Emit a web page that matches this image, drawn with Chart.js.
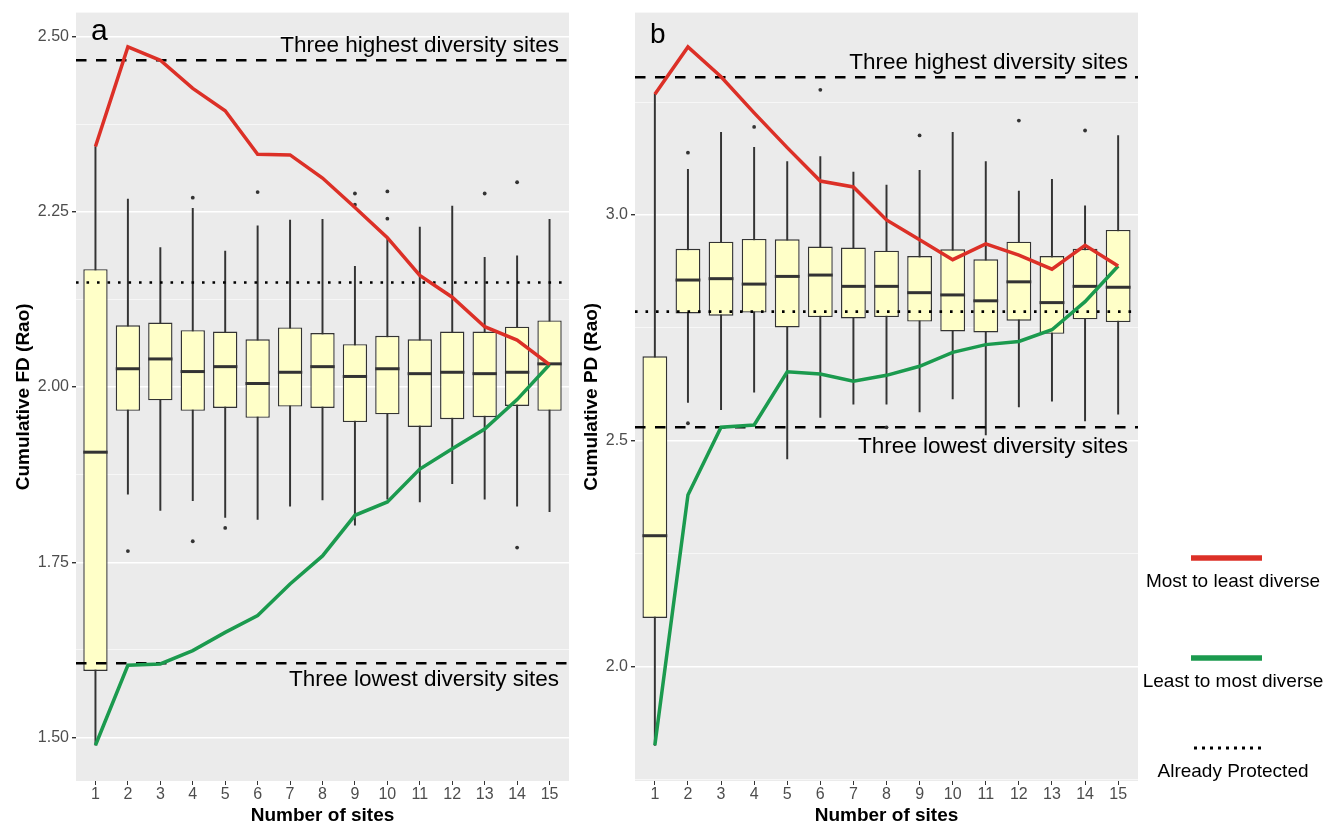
<!DOCTYPE html>
<html>
<head>
<meta charset="utf-8">
<script src="https://cdn.jsdelivr.net/npm/chart.js@4.4.0/dist/chart.umd.min.js"></script>
<style>
  body { margin: 0; background: #fff; }
  #wrap { position: relative; width: 1342px; height: 827px; }
  canvas { position: absolute; top: 0; }
  #fd { left: 0; }
  #pd { left: 580px; }
</style>
</head>
<body>
<div id="wrap">
  <canvas id="fd" width="580" height="827"></canvas>
  <canvas id="pd" width="762" height="827"></canvas>
</div>
<script>
// x categories
const sites = [1, 2, 3, 4, 5, 6, 7, 8, 9, 10, 11, 12, 13, 14, 15];

// panel a: cumulative FD (Rao), boxplot stats per number of sites
const fdLow  = [1.489, 1.847, 1.824, 1.838, 1.814, 1.811, 1.830, 1.839, 1.803, 1.840, 1.836, 1.862, 1.840, 1.830, 1.822];
const fdQ1   = [1.595, 1.966, 1.981, 1.966, 1.970, 1.956, 1.972, 1.970, 1.950, 1.961, 1.943, 1.954, 1.957, 1.973, 1.966];
const fdMed  = [1.907, 2.026, 2.040, 2.022, 2.029, 2.005, 2.021, 2.029, 2.015, 2.026, 2.019, 2.021, 2.019, 2.021, 2.033];
const fdQ3   = [2.168, 2.088, 2.092, 2.081, 2.079, 2.068, 2.085, 2.077, 2.061, 2.073, 2.068, 2.079, 2.079, 2.086, 2.095];
const fdHigh = [2.343, 2.268, 2.199, 2.255, 2.194, 2.230, 2.238, 2.239, 2.172, 2.213, 2.228, 2.258, 2.185, 2.187, 2.239];
const fdOutSite = [2, 4, 4, 5, 6, 9, 9, 10, 10, 13, 14, 14];
const fdOutVal  = [1.766, 2.270, 1.780, 1.799, 2.278, 2.276, 2.260, 2.279, 2.240, 2.276, 2.292, 1.771];
const fdMostToLeast = [2.343, 2.485, 2.466, 2.426, 2.394, 2.332, 2.331, 2.298, 2.256, 2.213, 2.159, 2.128, 2.086, 2.067, 2.032];
const fdLeastToMost = [1.489, 1.603, 1.605, 1.624, 1.650, 1.674, 1.719, 1.759, 1.817, 1.836, 1.883, 1.912, 1.940, 1.982, 2.032];
const fdHighest = 2.466, fdLowest = 1.606, fdProtected = 2.149;
const fdTicks = [1.50, 1.75, 2.00, 2.25, 2.50];
const fdMinor = [1.625, 1.875, 2.125, 2.375];

// panel b: cumulative PD (Rao)
const pdLow  = [1.826, 2.585, 2.569, 2.608, 2.460, 2.552, 2.581, 2.581, 2.564, 2.593, 2.513, 2.575, 2.588, 2.544, 2.559];
const pdQ1   = [2.108, 2.782, 2.777, 2.784, 2.751, 2.774, 2.771, 2.774, 2.764, 2.742, 2.740, 2.766, 2.737, 2.769, 2.763];
const pdMed  = [2.290, 2.856, 2.859, 2.847, 2.864, 2.867, 2.842, 2.842, 2.828, 2.823, 2.810, 2.852, 2.806, 2.842, 2.840];
const pdQ3   = [2.687, 2.925, 2.941, 2.947, 2.946, 2.930, 2.928, 2.921, 2.909, 2.924, 2.902, 2.941, 2.909, 2.925, 2.967];
const pdHigh = [3.267, 3.101, 3.183, 3.150, 3.118, 3.129, 3.095, 3.066, 3.099, 3.183, 3.118, 3.053, 3.079, 3.020, 3.176];
const pdOutSite = [2, 2, 4, 6, 8, 9, 12, 14];
const pdOutVal  = [3.138, 2.539, 3.195, 3.277, 2.530, 3.176, 3.209, 3.187];
const pdMostToLeast = [3.267, 3.372, 3.306, 3.226, 3.149, 3.075, 3.062, 2.989, 2.945, 2.901, 2.936, 2.911, 2.880, 2.933, 2.887];
const pdLeastToMost = [1.826, 2.380, 2.530, 2.535, 2.653, 2.648, 2.632, 2.645, 2.665, 2.696, 2.713, 2.720, 2.746, 2.808, 2.887];
const pdHighest = 3.305, pdLowest = 2.530, pdProtected = 2.786;
const pdTicks = [2.0, 2.5, 3.0];
const pdMinor = [1.75, 2.25, 2.75, 3.25];

const legendLabels = ['Most to least diverse', 'Least to most diverse', 'Already Protected'];

Chart.defaults.font.family = "'Liberation Sans', Arial, sans-serif";
Chart.defaults.color = '#4d4d4d';

const INK = '#333333';
const RED = '#dc3027';
const GREEN = '#1b9a4e';
const BOX_FILL = '#ffffc8';
const FONT = "'Liberation Sans', Arial, sans-serif";

const hline = (ctx, area, y, width, dash) => {
  ctx.save();
  ctx.strokeStyle = '#000';
  ctx.lineWidth = width;
  ctx.setLineDash(dash);
  ctx.beginPath();
  ctx.moveTo(area.left, y);
  ctx.lineTo(area.right, y);
  ctx.stroke();
  ctx.restore();
};

function makePanel(id, p) {
  const isMajor = v => p.ticks.some(t => Math.abs(t - v) < 1e-6);
  const gridValues = p.ticks.concat(p.minor).sort((a, b) => a - b);

  const background = {
    id: 'panelBg',
    beforeDraw(chart) {
      const { ctx, chartArea: a } = chart;
      ctx.save();
      ctx.fillStyle = '#ebebeb';
      ctx.fillRect(a.left, a.top, a.width, a.height);
      ctx.restore();
    }
  };

  // medians + reference lines go right after the boxes, under the red/green lines
  const boxExtras = {
    id: 'boxExtras',
    afterDatasetDraw(chart, args) {
      if (chart.data.datasets[args.index].role !== 'box') return;
      const { ctx, chartArea: a, scales: { y } } = chart;
      ctx.save();
      ctx.strokeStyle = INK;
      ctx.lineWidth = 3;
      args.meta.data.forEach((bar, i) => {
        const py = y.getPixelForValue(p.med[i]);
        ctx.beginPath();
        ctx.moveTo(bar.x - bar.width / 2, py);
        ctx.lineTo(bar.x + bar.width / 2, py);
        ctx.stroke();
      });
      ctx.restore();
      hline(ctx, a, y.getPixelForValue(p.highest), 2.4, [10.5, 9.5]);
      hline(ctx, a, y.getPixelForValue(p.lowest), 2.4, [10.5, 9.5]);
      hline(ctx, a, y.getPixelForValue(p.protected), 2.6, [2.6, 7.9]);
    }
  };

  const labels = {
    id: 'labels',
    afterDraw(chart) {
      const { ctx, chartArea: a, scales: { y } } = chart;
      ctx.save();
      ctx.fillStyle = '#000';
      ctx.font = '22.5px ' + FONT;
      ctx.textAlign = 'right';
      ctx.textBaseline = 'alphabetic';
      ctx.fillText('Three highest diversity sites', a.right - 10, y.getPixelForValue(p.highest) - 8.5);
      ctx.fillText('Three lowest diversity sites', a.right - 10, y.getPixelForValue(p.lowest) + p.lowGap);
      ctx.textAlign = 'left';
      ctx.font = p.tagSize + 'px ' + FONT;
      ctx.fillText(p.tag, a.left + 15, p.tagBase);

      if (p.legend) {
        const lx = 611, lw = 71, tx = 653;
        ctx.font = '19px ' + FONT;
        ctx.textAlign = 'center';
        const rows = [
          { y: 558, color: RED, dash: [], w: 5.5 },
          { y: 658, color: GREEN, dash: [], w: 5.5 },
          { y: 748, color: '#000', dash: [3, 5], w: 3 }
        ];
        const textBase = [587, 687, 777];
        rows.forEach((r, i) => {
          ctx.save();
          ctx.strokeStyle = r.color;
          ctx.lineWidth = r.w;
          ctx.setLineDash(r.dash);
          ctx.beginPath();
          ctx.moveTo(lx + (r.dash.length ? 3 : 0), r.y);
          ctx.lineTo(lx + lw, r.y);
          ctx.stroke();
          ctx.restore();
          ctx.fillText(legendLabels[i], tx, textBase[i]);
        });
      }
      ctx.restore();
    }
  };

  return new Chart(document.getElementById(id), {
    type: 'bar',
    data: {
      datasets: [
        {
          type: 'line', label: legendLabels[0],
          data: sites.map((s, i) => ({ x: s, y: p.most[i] })),
          borderColor: RED, borderWidth: 3.5, pointRadius: 0, tension: 0, order: 0
        },
        {
          type: 'line', label: legendLabels[1],
          data: sites.map((s, i) => ({ x: s, y: p.least[i] })),
          borderColor: GREEN, borderWidth: 3.5, pointRadius: 0, tension: 0, order: 1
        },
        {
          type: 'scatter', label: 'outliers',
          data: p.outSite.map((s, i) => ({ x: s, y: p.outVal[i] })),
          backgroundColor: INK, borderWidth: 0, pointRadius: 1.9, order: 2
        },
        {
          role: 'box', label: 'box',
          data: sites.map((s, i) => ({ x: s, y: [p.q1[i], p.q3[i]] })),
          backgroundColor: BOX_FILL, borderColor: INK, borderWidth: 1.4, borderSkipped: false,
          grouped: false, barPercentage: 0.75, categoryPercentage: 1, order: 3
        },
        {
          label: 'whisker',
          data: sites.map((s, i) => ({ x: s, y: [p.low[i], p.high[i]] })),
          backgroundColor: INK, borderWidth: 0, barThickness: 1.3,
          grouped: false, order: 4
        }
      ]
    },
    options: {
      responsive: false,
      animation: false,
      events: [],
      layout: { padding: { top: 7, right: p.padRight, left: 0, bottom: 0 } },
      plugins: { legend: { display: false }, tooltip: { enabled: false } },
      scales: {
        x: {
          type: 'linear', min: 0.4, max: 15.6, offset: false,
          afterBuildTicks: s => { s.ticks = sites.map(v => ({ value: v })); },
          afterFit: s => { s.height = 46; },
          grid: { offset: false, drawOnChartArea: false, drawTicks: true, tickLength: 4, tickColor: INK, lineWidth: 1 },
          border: { display: false },
          ticks: { font: { size: 16 }, color: '#4d4d4d', padding: 0, autoSkip: false, maxRotation: 0, callback: v => String(v) },
          title: { display: true, text: 'Number of sites', color: '#000', font: { size: 19, weight: 'bold' }, padding: { top: 0, bottom: 0 } }
        },
        y: {
          min: p.yMin, max: p.yMax,
          afterBuildTicks: s => { s.ticks = gridValues.map(v => ({ value: v })); },
          afterFit: s => { s.width = p.axisWidth; },
          grid: {
            color: '#ffffff',
            lineWidth: c => (c.tick && isMajor(c.tick.value)) ? 1.4 : 0.6,
            tickLength: 4,
            tickColor: c => (c.tick && isMajor(c.tick.value)) ? INK : 'rgba(0,0,0,0)'
          },
          border: { display: false },
          ticks: { font: { size: 16 }, color: '#4d4d4d', padding: 3, autoSkip: false, callback: v => isMajor(v) ? v.toFixed(p.decimals) : '' },
          title: { display: true, text: p.yTitle, color: '#000', font: { size: 19, weight: 'bold' }, padding: { top: p.titlePad, bottom: 0 } }
        }
      }
    },
    plugins: [background, boxExtras, labels]
  });
}

makePanel('fd', {
  low: fdLow, q1: fdQ1, med: fdMed, q3: fdQ3, high: fdHigh,
  outSite: fdOutSite, outVal: fdOutVal, most: fdMostToLeast, least: fdLeastToMost,
  highest: fdHighest, lowest: fdLowest, protected: fdProtected,
  ticks: fdTicks, minor: fdMinor, yMin: 1.438, yMax: 2.534, decimals: 2,
  yTitle: 'Cumulative FD (Rao)', axisWidth: 76, padRight: 11, titlePad: 12,
  tag: 'a', tagSize: 30, tagBase: 40, lowGap: 23, legend: false
});

makePanel('pd', {
  low: pdLow, q1: pdQ1, med: pdMed, q3: pdQ3, high: pdHigh,
  outSite: pdOutSite, outVal: pdOutVal, most: pdMostToLeast, least: pdLeastToMost,
  highest: pdHighest, lowest: pdLowest, protected: pdProtected,
  ticks: pdTicks, minor: pdMinor, yMin: 1.747, yMax: 3.448, decimals: 1,
  yTitle: 'Cumulative PD (Rao)', axisWidth: 55, padRight: 204, titlePad: 0,
  tag: 'b', tagSize: 28, tagBase: 43, lowGap: 26, legend: true
});
</script>
</body>
</html>
